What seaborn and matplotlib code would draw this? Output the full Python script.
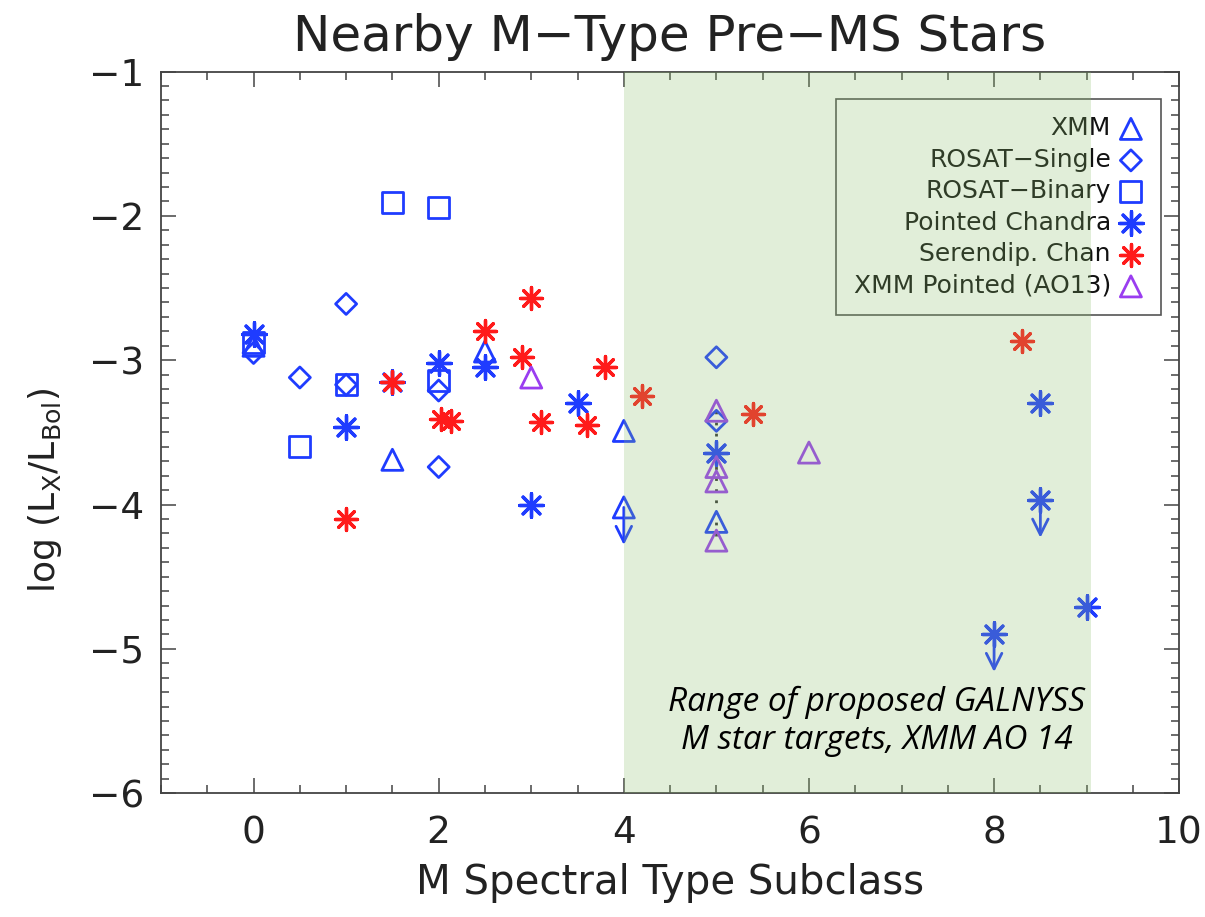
import matplotlib
matplotlib.use("Agg")
import matplotlib.pyplot as plt
from matplotlib.ticker import MultipleLocator
import pandas as pd
import seaborn as sns

# values (M subclass, log Lx/Lbol)
xmm_x = [0, 1.5, 2.5, 4, 4, 5]
xmm_y = [-2.90, -3.69, -2.94, -3.49, -4.02, -4.12]
xmm_ul = [False, False, False, False, True, False]

rosat_single_x = [0, 0.5, 1, 1, 2, 2, 5, 5]
rosat_single_y = [-2.95, -3.12, -2.61, -3.17, -3.21, -3.74, -2.98, -3.42]

rosat_binary_x = [0, 0.5, 1, 1.5, 2, 2]
rosat_binary_y = [-2.88, -3.60, -3.17, -1.91, -1.94, -3.14]

chandra_x = [0, 1, 1.5, 2, 2.5, 3, 3.5, 5, 8, 8.5, 8.5, 9]
chandra_y = [-2.82, -3.46, -3.15, -3.02, -3.05, -4.00, -3.30, -3.64,
             -4.90, -3.30, -3.97, -4.71]
chandra_ul = [False, False, False, False, False, False, False, False,
              True, False, True, False]

serendip_x = [1.0, 1.5, 2.03, 2.13, 2.5, 2.9, 3.0, 3.1, 3.6, 3.8, 4.2, 5.4, 8.3]
serendip_y = [-4.10, -3.15, -3.41, -3.42, -2.80, -2.98, -2.57, -3.43,
              -3.45, -3.05, -3.25, -3.37, -2.87]

ao13_x = [3.0, 5, 5, 5, 5, 6]
ao13_y = [-3.12, -3.35, -3.74, -3.84, -4.25, -3.64]

# dotted link between the repeated M5 measurements
link_x = [5, 5]
link_y = [-3.35, -4.25]

target_range = [4.0, 9.05]
arrow_len = 0.26

BLUE = "#1f3cff"
RED = "#ff1a1a"
PURPLE = "#9a3df0"
AXCOL = "#444444"

frames = []
for name, xs, ys, ul in [
    ("XMM", xmm_x, xmm_y, xmm_ul),
    ("ROSAT\u2212Single", rosat_single_x, rosat_single_y, [False] * len(rosat_single_x)),
    ("ROSAT\u2212Binary", rosat_binary_x, rosat_binary_y, [False] * len(rosat_binary_x)),
    ("Pointed Chandra", chandra_x, chandra_y, chandra_ul),
    ("Serendip. Chan", serendip_x, serendip_y, [False] * len(serendip_x)),
    ("XMM Pointed (AO13)", ao13_x, ao13_y, [False] * len(ao13_x)),
]:
    frames.append(pd.DataFrame({"subclass": xs, "ratio": ys, "survey": name, "upper": ul}))
df = pd.concat(frames, ignore_index=True)

# marker style per survey: (marker, size, colour, open)
asterisk = (8, 2, 0)
styles = {
    "XMM": ("^", 230, BLUE, True),
    "ROSAT\u2212Single": ("D", 115, BLUE, True),
    "ROSAT\u2212Binary": ("s", 230, BLUE, True),
    "Pointed Chandra": (asterisk, 290, BLUE, False),
    "Serendip. Chan": (asterisk, 250, RED, False),
    "XMM Pointed (AO13)": ("^", 230, PURPLE, True),
}

sns.set_style("ticks")
plt.rcParams["font.family"] = ["DejaVu Sans"]
plt.rcParams["mathtext.fontset"] = "dejavusans"

fig = plt.figure(figsize=(12.05, 9.17), dpi=100)
ax = fig.add_axes([0.1336, 0.135, 0.845, 0.787])

ax.plot(link_x, link_y, color="#333333", ls=(0, (1, 3)), lw=2, zorder=1)

for name, (marker, size, col, hollow) in styles.items():
    sub = df[df["survey"] == name]
    kws = dict(marker=marker, s=size, label=name, ax=ax, zorder=3)
    if hollow:
        kws.update(facecolors="none", edgecolor=col, linewidth=2.0)
    else:
        kws.update(color=col, linewidth=2.4)
    sns.scatterplot(data=sub, x="subclass", y="ratio", **kws)

    for _, row in sub[sub["upper"]].iterrows():
        ax.annotate("", xy=(row["subclass"], row["ratio"] - arrow_len),
                    xytext=(row["subclass"], row["ratio"]),
                    arrowprops=dict(arrowstyle="->", color=col, lw=2.0,
                                    shrinkA=0, shrinkB=0, mutation_scale=28),
                    zorder=3)

leg = ax.legend(loc="upper right", bbox_to_anchor=(0.982, 0.962), borderaxespad=0,
                markerfirst=False, fontsize=18, frameon=True, fancybox=False,
                handletextpad=0.3, labelspacing=0.3, borderpad=0.7,
                handlelength=1.0, scatterpoints=1)
leg.get_frame().set_edgecolor("#555555")
leg.get_frame().set_linewidth(1.2)
leg.get_frame().set_facecolor("white")
leg.get_frame().set_alpha(1)
for t in leg.get_texts():
    t.set_color("#111111")
leg.set_zorder(5)

# shaded target range drawn over the points, like the slide overlay
ax.axvspan(*target_range, color="#8bbf6b", alpha=0.25, lw=0, zorder=6)
ax.text(6.73, -5.50, "Range of proposed GALNYSS\nM star targets, XMM AO 14",
        ha="center", va="center", fontsize=24, style="italic",
        family=["Open Sans", "DejaVu Sans"], linespacing=1.2, color="black", zorder=7)

ax.set_xlim(-1, 10)
ax.set_ylim(-6, -1)
ax.xaxis.set_major_locator(MultipleLocator(2))
ax.xaxis.set_minor_locator(MultipleLocator(0.5))
ax.yaxis.set_major_locator(MultipleLocator(1))
ax.yaxis.set_minor_locator(MultipleLocator(0.1))
ax.tick_params(which="both", direction="in", top=True, right=True,
               color=AXCOL, width=1.1, labelsize=27, labelcolor="#222222")
ax.tick_params(axis="x", which="major", length=11, pad=16)
ax.tick_params(axis="y", which="major", length=11, pad=12)
ax.tick_params(which="minor", length=5.5)
for sp in ax.spines.values():
    sp.set_color(AXCOL)
    sp.set_linewidth(1.3)

ax.set_title("Nearby M\u2212Type Pre\u2212MS Stars", fontsize=36, color="#222222", pad=15)
ax.set_xlabel("M Spectral Type Subclass", fontsize=29, color="#222222", labelpad=8)
ax.set_ylabel(r"log (L$_\mathrm{X}$/L$_\mathrm{Bol}$)", fontsize=26, color="#222222")
ax.yaxis.set_label_coords(-0.095, 0.42)

fig.savefig("out.png", dpi=100)
plt.close(fig)
